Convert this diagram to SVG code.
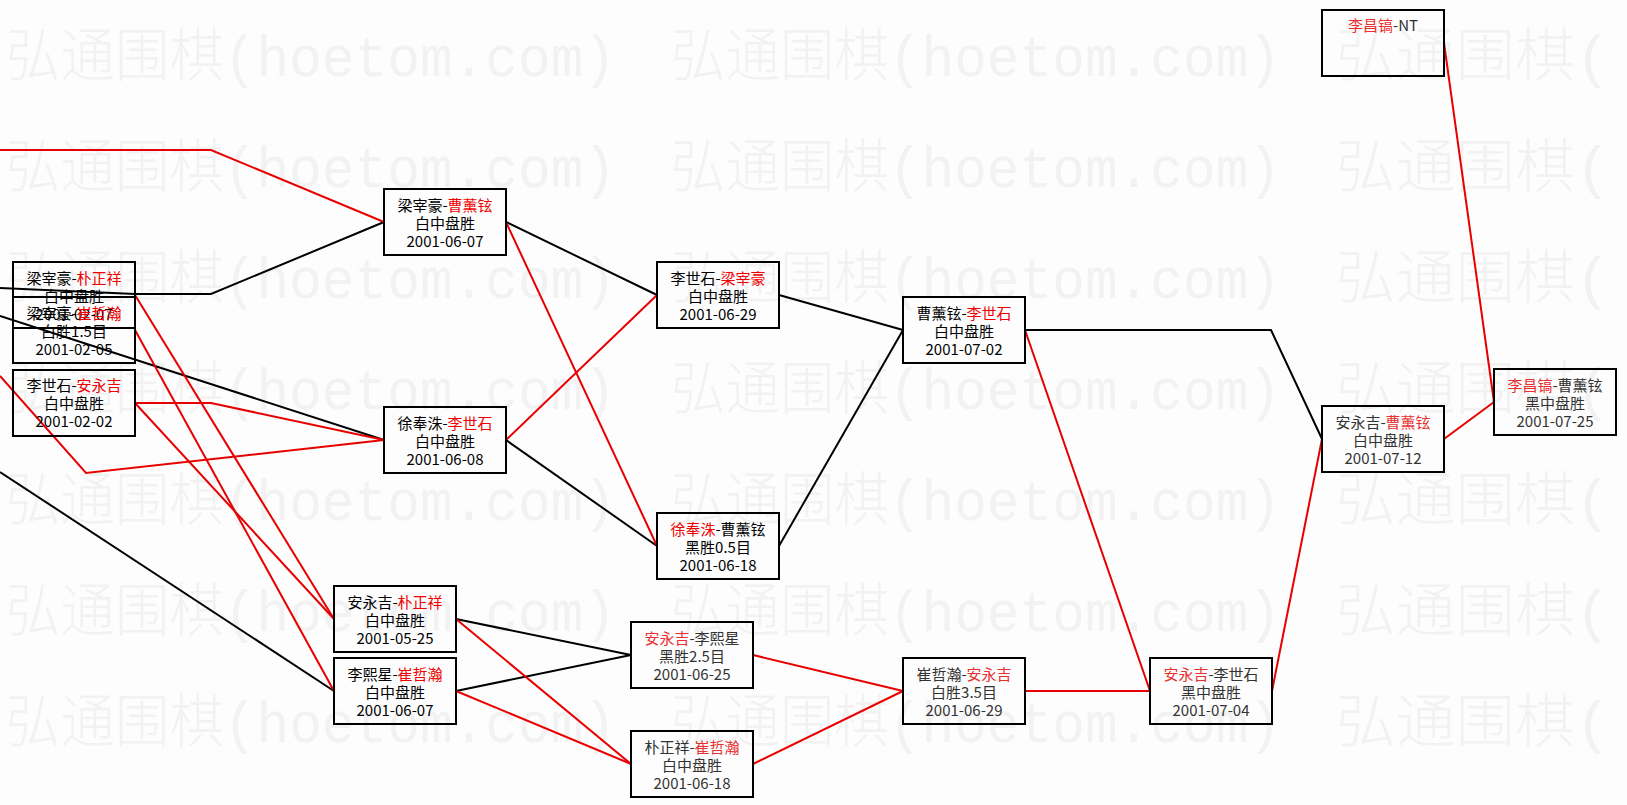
<svg xmlns="http://www.w3.org/2000/svg" width="1627" height="805" viewBox="0 0 1627 805">
<style>
.bg{fill:#fdfdfd}
.wm{font-family:"Liberation Mono","Noto Sans CJK SC",monospace;font-size:58px;font-weight:300;fill:#f2f2f2}
.box{fill:none;stroke:#000;stroke-width:2}
.t{font-family:"Noto Sans CJK SC",sans-serif;font-size:15px;text-anchor:middle;fill:#000}
.t2{font-family:"Noto Sans CJK SC",sans-serif;font-size:15px;text-anchor:middle;fill:#333}
.r{fill:#f00000}
.r2{fill:#e83030}
.cb{fill:none;stroke:#000;stroke-width:2}
.cr{fill:none;stroke:#e80000;stroke-width:2}
</style>
<rect class="bg" x="0" y="0" width="1627" height="805"/>
<g id="watermark">
<text class="wm" x="6" y="76" textLength="610" lengthAdjust="spacingAndGlyphs">弘通围棋(hoetom.com)</text>
<text class="wm" x="671" y="76" textLength="610" lengthAdjust="spacingAndGlyphs">弘通围棋(hoetom.com)</text>
<text class="wm" x="1336" y="76" textLength="275" lengthAdjust="spacingAndGlyphs">弘通围棋(</text>
<text class="wm" x="6" y="187" textLength="610" lengthAdjust="spacingAndGlyphs">弘通围棋(hoetom.com)</text>
<text class="wm" x="671" y="187" textLength="610" lengthAdjust="spacingAndGlyphs">弘通围棋(hoetom.com)</text>
<text class="wm" x="1336" y="187" textLength="275" lengthAdjust="spacingAndGlyphs">弘通围棋(</text>
<text class="wm" x="6" y="298" textLength="610" lengthAdjust="spacingAndGlyphs">弘通围棋(hoetom.com)</text>
<text class="wm" x="671" y="298" textLength="610" lengthAdjust="spacingAndGlyphs">弘通围棋(hoetom.com)</text>
<text class="wm" x="1336" y="298" textLength="275" lengthAdjust="spacingAndGlyphs">弘通围棋(</text>
<text class="wm" x="6" y="409" textLength="610" lengthAdjust="spacingAndGlyphs">弘通围棋(hoetom.com)</text>
<text class="wm" x="671" y="409" textLength="610" lengthAdjust="spacingAndGlyphs">弘通围棋(hoetom.com)</text>
<text class="wm" x="1336" y="409" textLength="275" lengthAdjust="spacingAndGlyphs">弘通围棋(</text>
<text class="wm" x="6" y="520" textLength="610" lengthAdjust="spacingAndGlyphs">弘通围棋(hoetom.com)</text>
<text class="wm" x="671" y="520" textLength="610" lengthAdjust="spacingAndGlyphs">弘通围棋(hoetom.com)</text>
<text class="wm" x="1336" y="520" textLength="275" lengthAdjust="spacingAndGlyphs">弘通围棋(</text>
<text class="wm" x="6" y="631" textLength="610" lengthAdjust="spacingAndGlyphs">弘通围棋(hoetom.com)</text>
<text class="wm" x="671" y="631" textLength="610" lengthAdjust="spacingAndGlyphs">弘通围棋(hoetom.com)</text>
<text class="wm" x="1336" y="631" textLength="275" lengthAdjust="spacingAndGlyphs">弘通围棋(</text>
<text class="wm" x="6" y="742" textLength="610" lengthAdjust="spacingAndGlyphs">弘通围棋(hoetom.com)</text>
<text class="wm" x="671" y="742" textLength="610" lengthAdjust="spacingAndGlyphs">弘通围棋(hoetom.com)</text>
<text class="wm" x="1336" y="742" textLength="275" lengthAdjust="spacingAndGlyphs">弘通围棋(</text>
</g>
<g id="connectors">
<polyline class="cb" points="0,288 135,294 211,294 384,222"/>
<polyline class="cb" points="0,316 384,440"/>
<polyline class="cb" points="0,472 334,691"/>
<polyline class="cb" points="506,222 657,295"/>
<polyline class="cb" points="506,440 657,546"/>
<polyline class="cb" points="779,295 903,330"/>
<polyline class="cb" points="779,546 903,330"/>
<polyline class="cb" points="1025,330 1271,330 1322,439"/>
<polyline class="cb" points="456,619 631,655"/>
<polyline class="cb" points="456,691 631,655"/>
<polyline class="cr" points="0,150 211,150 384,222"/>
<polyline class="cr" points="135,403 211,403 384,440"/>
<polyline class="cr" points="0,376 86,473 384,440"/>
<polyline class="cr" points="135,295 334,619"/>
<polyline class="cr" points="135,403 334,619"/>
<polyline class="cr" points="135,330 334,691"/>
<polyline class="cr" points="506,222 657,546"/>
<polyline class="cr" points="506,440 657,295"/>
<polyline class="cr" points="456,619 631,764"/>
<polyline class="cr" points="456,691 631,764"/>
<polyline class="cr" points="753,655 903,691"/>
<polyline class="cr" points="753,764 903,691"/>
<polyline class="cr" points="1025,691 1150,691"/>
<polyline class="cr" points="1025,330 1150,691"/>
<polyline class="cr" points="1272,691 1322,439"/>
<polyline class="cr" points="1444,439 1494,402"/>
<polyline class="cr" points="1444,43 1494,402"/>
</g>
<g id="nA">
<rect class="box" x="13" y="262" width="122" height="66"/>
<text class="t" x="74" y="284">梁宰豪-<tspan class="r">朴正祥</tspan></text>
<text class="t" x="74" y="302">白中盘胜</text>
<text class="t" x="74" y="320">2001-02-07</text>
</g>
<g id="nB">
<rect class="box" x="13" y="297" width="122" height="66"/>
<text class="t" x="74" y="319">梁宰豪-<tspan class="r">崔哲瀚</tspan></text>
<text class="t" x="74" y="337">白胜1.5目</text>
<text class="t" x="74" y="355">2001-02-05</text>
</g>
<g id="n15">
<rect class="box" x="13" y="370" width="122" height="66"/>
<text class="t" x="74" y="391">李世石-<tspan class="r">安永吉</tspan></text>
<text class="t" x="74" y="409">白中盘胜</text>
<text class="t" x="74" y="427">2001-02-02</text>
</g>
<g id="n2">
<rect class="box" x="384" y="189" width="122" height="66"/>
<text class="t" x="445" y="211">梁宰豪-<tspan class="r">曹薰铉</tspan></text>
<text class="t" x="445" y="229">白中盘胜</text>
<text class="t" x="445" y="247">2001-06-07</text>
</g>
<g id="n3">
<rect class="box" x="384" y="407" width="122" height="66"/>
<text class="t" x="445" y="429">徐奉洙-<tspan class="r">李世石</tspan></text>
<text class="t" x="445" y="447">白中盘胜</text>
<text class="t" x="445" y="465">2001-06-08</text>
</g>
<g id="n7">
<rect class="box" x="334" y="586" width="122" height="66"/>
<text class="t" x="395" y="608">安永吉-<tspan class="r">朴正祥</tspan></text>
<text class="t" x="395" y="626">白中盘胜</text>
<text class="t" x="395" y="644">2001-05-25</text>
</g>
<g id="n8">
<rect class="box" x="334" y="658" width="122" height="66"/>
<text class="t" x="395" y="680">李熙星-<tspan class="r">崔哲瀚</tspan></text>
<text class="t" x="395" y="698">白中盘胜</text>
<text class="t" x="395" y="716">2001-06-07</text>
</g>
<g id="n4">
<rect class="box" x="657" y="262" width="122" height="66"/>
<text class="t" x="718" y="284">李世石-<tspan class="r">梁宰豪</tspan></text>
<text class="t" x="718" y="302">白中盘胜</text>
<text class="t" x="718" y="320">2001-06-29</text>
</g>
<g id="n5">
<rect class="box" x="657" y="513" width="122" height="66"/>
<text class="t" x="718" y="535"><tspan class="r">徐奉洙</tspan>-曹薰铉</text>
<text class="t" x="718" y="553">黑胜0.5目</text>
<text class="t" x="718" y="571">2001-06-18</text>
</g>
<g id="n9">
<rect class="box" x="631" y="622" width="122" height="66"/>
<text class="t2" x="692" y="644"><tspan class="r2">安永吉</tspan>-李熙星</text>
<text class="t2" x="692" y="662">黑胜2.5目</text>
<text class="t2" x="692" y="680">2001-06-25</text>
</g>
<g id="n10">
<rect class="box" x="631" y="731" width="122" height="66"/>
<text class="t2" x="692" y="753">朴正祥-<tspan class="r2">崔哲瀚</tspan></text>
<text class="t2" x="692" y="771">白中盘胜</text>
<text class="t2" x="692" y="789">2001-06-18</text>
</g>
<g id="n6">
<rect class="box" x="903" y="297" width="122" height="66"/>
<text class="t" x="964" y="319">曹薰铉-<tspan class="r">李世石</tspan></text>
<text class="t" x="964" y="337">白中盘胜</text>
<text class="t" x="964" y="355">2001-07-02</text>
</g>
<g id="n11">
<rect class="box" x="903" y="658" width="122" height="66"/>
<text class="t2" x="964" y="680">崔哲瀚-<tspan class="r2">安永吉</tspan></text>
<text class="t2" x="964" y="698">白胜3.5目</text>
<text class="t2" x="964" y="716">2001-06-29</text>
</g>
<g id="n12">
<rect class="box" x="1150" y="658" width="122" height="66"/>
<text class="t2" x="1211" y="680"><tspan class="r2">安永吉</tspan>-李世石</text>
<text class="t2" x="1211" y="698">黑中盘胜</text>
<text class="t2" x="1211" y="716">2001-07-04</text>
</g>
<g id="n13">
<rect class="box" x="1322" y="406" width="122" height="66"/>
<text class="t2" x="1383" y="428">安永吉-<tspan class="r2">曹薰铉</tspan></text>
<text class="t2" x="1383" y="446">白中盘胜</text>
<text class="t2" x="1383" y="464">2001-07-12</text>
</g>
<g id="n14">
<rect class="box" x="1494" y="369" width="122" height="66"/>
<text class="t2" x="1555" y="391"><tspan class="r2">李昌镐</tspan>-曹薰铉</text>
<text class="t2" x="1555" y="409">黑中盘胜</text>
<text class="t2" x="1555" y="427">2001-07-25</text>
</g>
<g id="n1">
<rect class="box" x="1322" y="10" width="122" height="66"/>
<text class="t2" x="1383" y="31"><tspan class="r2">李昌镐</tspan>-NT</text>
</g>
</svg>
